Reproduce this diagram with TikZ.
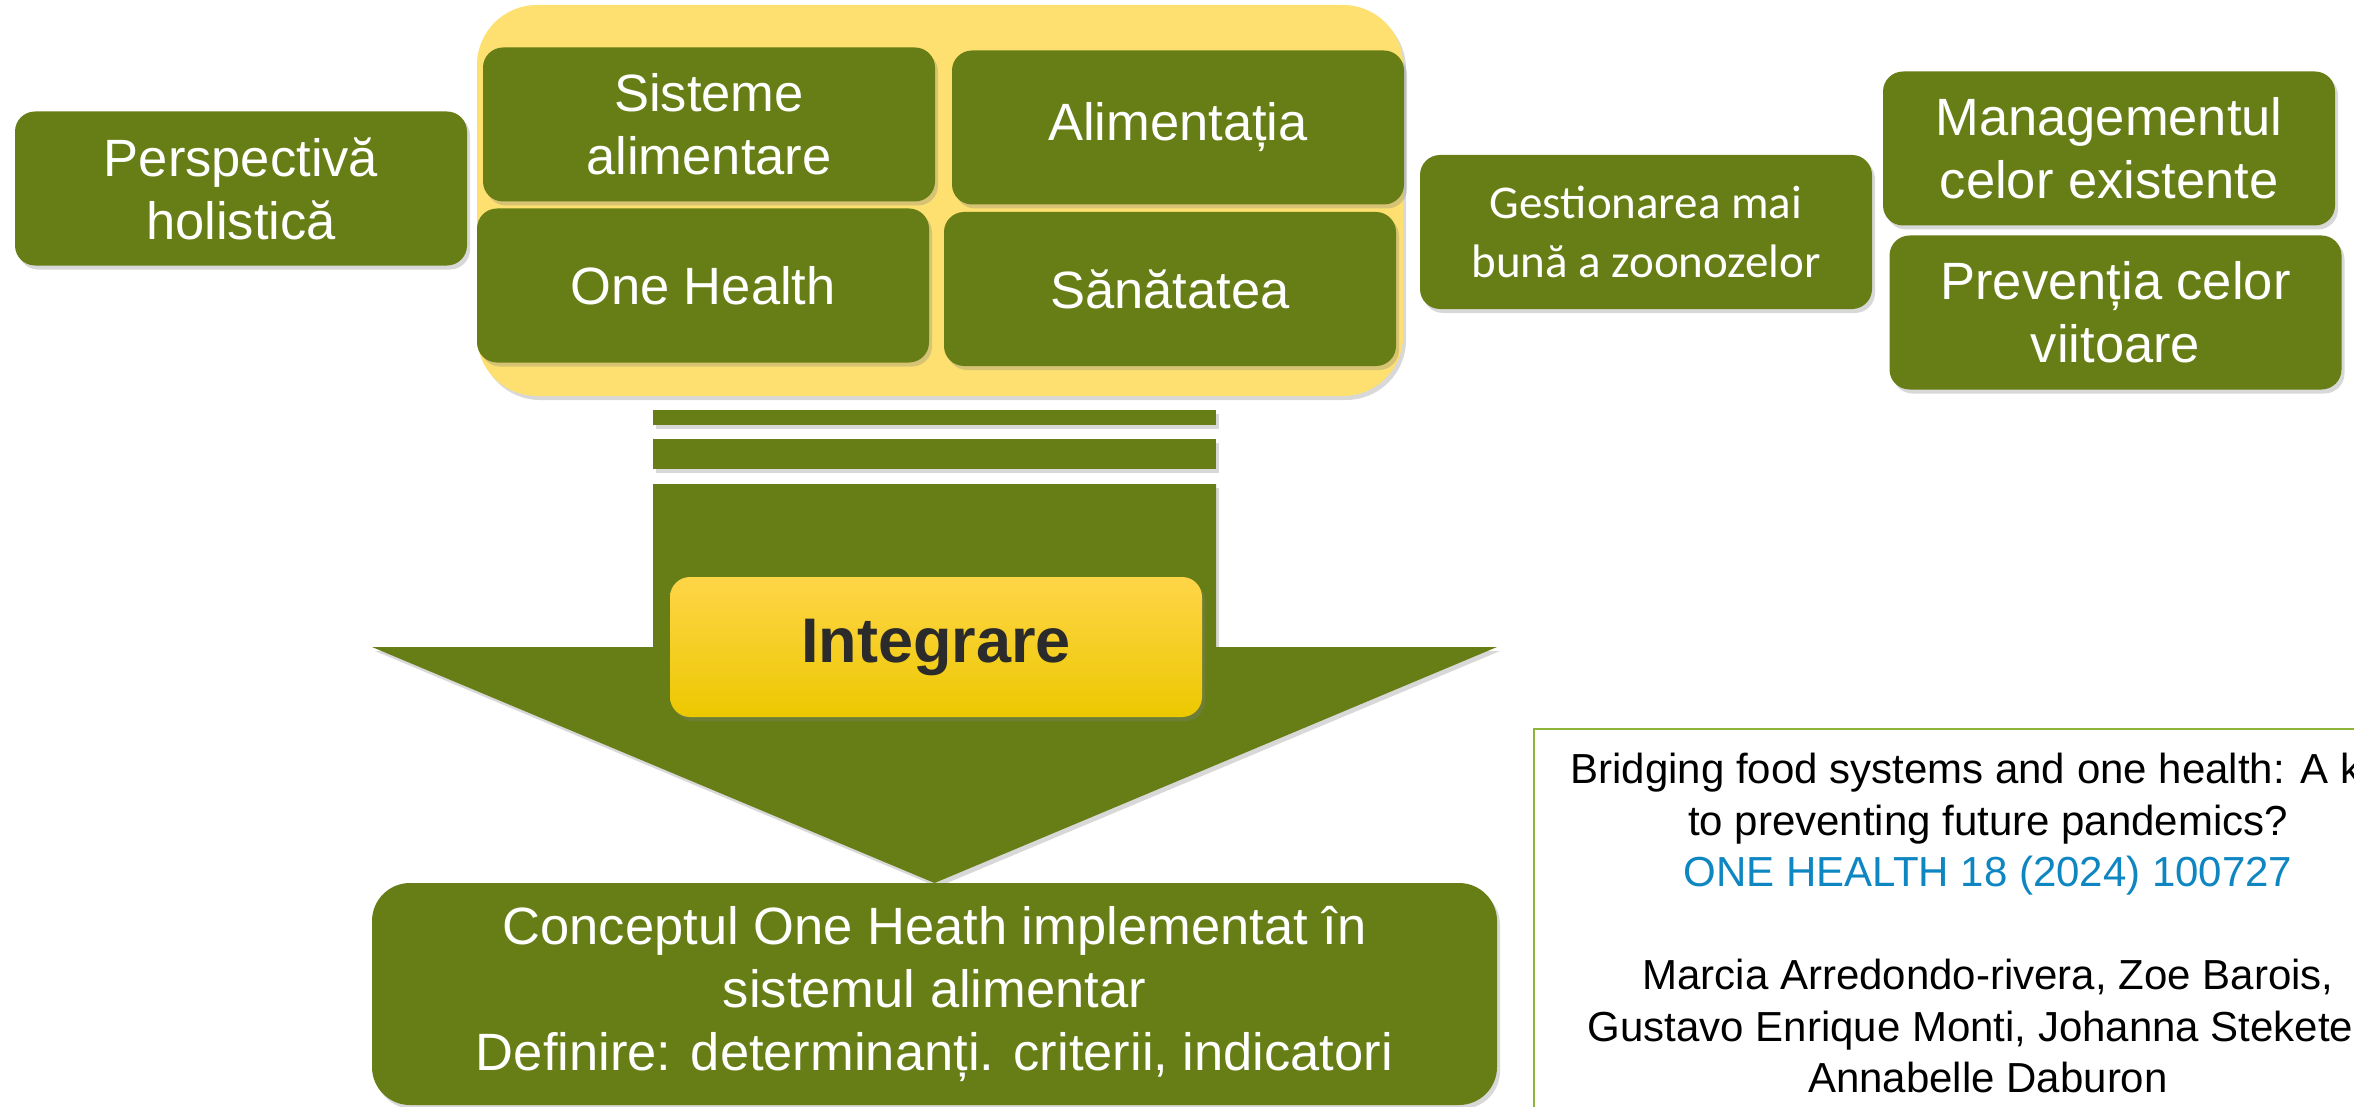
\documentclass[tikz,border=0pt]{standalone}
\usepackage{fontspec}
\setmainfont{Liberation Sans}
\newfontfamily\calibfont{Carlito}
\usetikzlibrary{shadows}
\definecolor{ogreen}{RGB}{103,126,22}
\definecolor{ybg}{RGB}{253,224,112}
\definecolor{intTop}{RGB}{255,213,72}
\definecolor{intMid}{RGB}{253,214,0}
\definecolor{intBot}{RGB}{236,200,0}
\definecolor{inttext}{RGB}{43,43,43}
\definecolor{refgreen}{RGB}{142,180,58}
\definecolor{refblue}{RGB}{14,134,193}
\begin{document}
\begin{tikzpicture}[x=0.5pt,y=-0.5pt,
  shad/.style={drop shadow={shadow xshift=1.5pt, shadow yshift=-2pt, opacity=0.3}},
  gbox/.style={rectangle, rounded corners=10pt, fill=ogreen, text=white, inner sep=0pt,
    minimum width=226pt, minimum height=77pt, align=center,
    font=\fontsize{26.25}{31.5}\selectfont, shad},
  barbox/.style={rectangle, fill=ogreen, inner sep=0pt, minimum width=281.5pt, shad},
]
\path[use as bounding box, clip] (0,0) rectangle (2354,1107);
\fill[white] (0,0) rectangle (2354,1107);

% yellow background
\node[rectangle, rounded corners=30pt, fill=ybg, minimum width=463pt, minimum height=195.5pt, inner sep=0pt, shad] (ybox) at (940,200.5) {};

% green boxes
\node[gbox] (persp) at (241,188.5) {Perspectivă\\holistică};
\node[gbox] (sist) at (709,124.5) {Sisteme\\alimentare};
\node[gbox] (alim) at (1178,127.5) {Alimentația};
\node[gbox] (oneh) at (703,285.5) {One Health};
\node[gbox] (sana) at (1170,289) {Sănătatea};
\node[gbox, font=\calibfont\fontsize{23.5}{29.5}\selectfont] (gest) at (1646,232) {Gestionarea mai\\bună a zoonozelor};
\node[gbox] (mgmt) at (2109,148.5) {Managementul\\celor existente};
\node[gbox] (prev) at (2115.5,312.5) {Prevenția celor\\viitoare};

% bars and arrow
\node[barbox, minimum height=7.5pt] (bar1) at (934.5,417.5) {};
\node[barbox, minimum height=15pt] (bar2) at (934.5,454) {};
\coordinate (tip) at (934.5,883);
\fill[ogreen, shad] (653,484) -- (1216,484) -- (1216,647) -- (1497,647) -- (tip) -- (372,647) -- (653,647) -- cycle;

% Integrare
\node[rectangle, rounded corners=10pt, top color=intTop, middle color=intMid, bottom color=intBot,
  minimum width=266pt, minimum height=70pt, inner sep=0pt, shad,
  text=inttext, font=\fontsize{31.5}{36}\selectfont\bfseries] (integ) at (936,647) {Integrare};

% bottom box
\node[gbox, rounded corners=19pt, minimum width=562.5pt, minimum height=111pt] (concept) at (934.5,994)
  {Conceptul One Heath implementat în\\sistemul alimentar\\Definire: determinanți. criterii, indicatori};

% reference box
\draw[refgreen, line width=1pt] (1534,729) rectangle (2400,1140);
\node[align=center, inner sep=0pt, font=\fontsize{21}{25.75}\selectfont] (reftext) at (1988,923)
  {Bridging food systems and one health: A key\\to preventing future pandemics?\\
   \textcolor{refblue}{ONE HEALTH 18 (2024) 100727}\\[25.75pt]
   Marcia Arredondo-rivera, Zoe Barois,\\Gustavo Enrique Monti, Johanna Steketee,\\Annabelle Daburon};
\end{tikzpicture}
\end{document}
